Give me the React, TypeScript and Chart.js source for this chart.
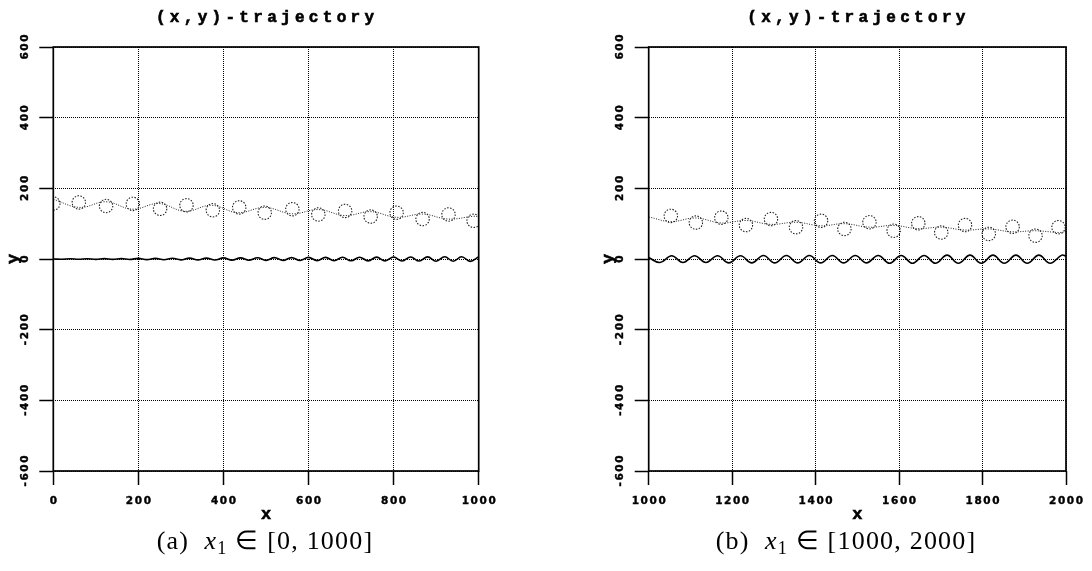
import React, { useEffect, useRef } from 'react';
import { Chart, registerables } from 'chart.js';

Chart.register(...registerables);

// ---------- shared labels ----------
const titleText = '(x,y)-trajectory';
const xTitle = 'x';
const yTitle = 'y';
const yTicks = [-600, -400, -200, 0, 200, 400, 600];
const xTicksA = [0, 200, 400, 600, 800, 1000];
const xTicksB = [1000, 1200, 1400, 1600, 1800, 2000];

// ---------- panel (a) ----------
const waveAX = [0, 20, 40, 60, 80, 100, 120, 140, 160, 180, 200, 220, 240, 260, 280, 300, 320, 340, 360, 380, 400, 420, 440, 460, 480, 500, 520, 540, 560, 580, 600, 620, 640, 660, 680, 700, 720, 740, 760, 780, 800, 820, 840, 860, 880, 900, 920, 940, 960, 980, 1000];
const waveAY = [0, -0.5, 0.5, -0.5, 0.6, -1, 1, -1, 1.1, -1.2, 1.8, -1.8, 1.9, -2, 2, -2.5, 2.5, -2.6, 2.6, -2.8, 3.2, -3.2, 3.3, -3.4, 3.4, -3.8, 3.9, -4, 4, -4.2, 4.5, -4.6, 4.6, -4.8, 4.8, -5, 5.1, -5.2, 5.2, -5.4, 5.5, -5.6, 5.7, -5.8, 5.9, -6.2, 6.3, -6.4, 6.5, -6.6, 6.6];
const pathAX = [0, 62, 124, 186, 248, 310, 372, 434, 497, 562, 623, 686, 746, 807, 868, 929, 988, 1000];
const pathAY = [169, 146, 162, 141, 157, 135, 152, 131, 146, 128, 140, 123, 134, 118, 127, 113, 121, 120];
const circAX = [0, 60, 124, 187, 251, 313, 375, 437, 497, 562, 623, 686, 746, 807, 868, 929, 988];
const circAY = [157, 160, 150, 156, 142, 152, 138, 146, 131, 141, 126, 136, 120, 131, 113, 126, 108];

// ---------- panel (b) ----------
const waveBX = [1000, 1027, 1055, 1082, 1110, 1137, 1165, 1192, 1220, 1247, 1275, 1302, 1330, 1357, 1385, 1412, 1440, 1467, 1495, 1522, 1550, 1577, 1605, 1632, 1660, 1687, 1715, 1742, 1770, 1797, 1825, 1852, 1880, 1907, 1935, 1962, 1990, 2000];
const waveBY = [4, -10, 9, -10, 9, -10, 9, -11, 9, -11, 10, -11, 10, -11, 10, -11, 10, -11, 10, -11, 10, -12, 10, -12, 10, -12, 11, -12, 11, -12, 11, -12, 11, -12, 11, -12, 11, 8];
const pathBX = [1000, 1053, 1113, 1174, 1233, 1293, 1353, 1413, 1469, 1529, 1587, 1645, 1701, 1758, 1815, 1872, 1927, 1982, 2000];
const pathBY = [119, 106, 116, 102, 109, 98, 104, 94, 100, 90, 95, 86, 90, 82, 85, 77, 80, 75, 77];
const circBX = [1053, 1113, 1174, 1233, 1293, 1353, 1413, 1469, 1529, 1587, 1646, 1701, 1758, 1815, 1872, 1927, 1982];
const circBY = [122, 103, 117, 96, 113, 90, 108, 85, 104, 80, 101, 75, 96, 71, 91, 66, 90];

function drawSpaced(ctx: CanvasRenderingContext2D, text: string, cx: number, cy: number, sp: number, heavy: number) {
  const chars = Array.from(text);
  const ws = chars.map((c) => ctx.measureText(c).width);
  const total = ws.reduce((a, b) => a + b, 0) + sp * (chars.length - 1);
  let x = cx - total / 2;
  ctx.textAlign = 'left';
  ctx.textBaseline = 'middle';
  ctx.lineWidth = heavy;
  ctx.strokeStyle = '#000';
  chars.forEach((c, i) => {
    ctx.fillText(c, x, cy);
    if (heavy > 0) ctx.strokeText(c, x, cy);
    x += ws[i] + sp;
  });
}

const circleDash = {
  id: 'circleDash',
  beforeDatasetDraw(chart: any, args: any) {
    if (args.index === 1) chart.ctx.setLineDash([1.5, 1.5]);
  },
  afterDatasetDraw(chart: any, args: any) {
    if (args.index === 1) chart.ctx.setLineDash([]);
  },
};

function makeTextPlugin(xTicks: number[]) {
  return {
    id: 'texts',
    afterDraw(chart: any) {
      const ctx: CanvasRenderingContext2D = chart.ctx;
      const { left, right, top, bottom } = chart.chartArea;
      const xs = chart.scales.x;
      const ys = chart.scales.y;
      ctx.save();
      // frame
      ctx.strokeStyle = '#000';
      ctx.lineWidth = 1.7;
      ctx.setLineDash([]);
      ctx.strokeRect(left, top, right - left, bottom - top);
      ctx.fillStyle = '#000';
      // x tick labels
      ctx.font = 'bold 10.5px "DejaVu Sans"';
      xTicks.forEach((v) => drawSpaced(ctx, String(v), xs.getPixelForValue(v), bottom + 30, 1.6, 0.4));
      // y tick labels (rotated)
      yTicks.forEach((v) => {
        ctx.save();
        ctx.translate(left - 28, ys.getPixelForValue(v));
        ctx.rotate(-Math.PI / 2);
        drawSpaced(ctx, String(v), 0, 0, 1.6, 0.4);
        ctx.restore();
      });
      // axis titles
      ctx.font = 'bold 17px "Liberation Mono"';
      drawSpaced(ctx, xTitle, (left + right) / 2, bottom + 44, 0, 0.6);
      ctx.save();
      ctx.translate(left - 40, (top + bottom) / 2);
      ctx.rotate(-Math.PI / 2);
      drawSpaced(ctx, yTitle, 0, 0, 0, 0.6);
      ctx.restore();
      // title
      ctx.font = 'bold 16px "Liberation Mono"';
      drawSpaced(ctx, titleText, (left + right) / 2 - 1, top - 29, 4.3, 0.6);
      ctx.restore();
    },
  };
}

type PanelProps = {
  canvasLeft: number;
  yAxisWidth: number;
  padRight: number;
  xMin: number;
  xMax: number;
  xTicks: number[];
  waveX: number[];
  waveY: number[];
  pathX: number[];
  pathY: number[];
  circX: number[];
  circY: number[];
};

function Panel(p: PanelProps) {
  const ref = useRef<HTMLCanvasElement | null>(null);
  useEffect(() => {
    if (!ref.current) return;
    const toPts = (xs: number[], ys: number[]) => xs.map((x, i) => ({ x, y: ys[i] }));
    const chart = new Chart(ref.current, {
      type: 'line',
      data: {
        datasets: [
          {
            label: 'path',
            data: toPts(p.pathX, p.pathY),
            borderColor: '#202020',
            borderWidth: 1,
            borderDash: [1, 1.5],
            pointRadius: 0,
            tension: 0.4,
            fill: false,
          },
          {
            label: 'circles',
            data: toPts(p.circX, p.circY),
            showLine: false,
            pointRadius: 6.7,
            pointBorderColor: '#202020',
            pointBackgroundColor: 'rgba(0,0,0,0)',
            pointBorderWidth: 1.1,
            pointStyle: 'circle',
          },
          {
            label: 'wave',
            data: toPts(p.waveX, p.waveY),
            borderColor: '#000',
            borderWidth: 1.6,
            pointRadius: 0,
            tension: 0.4,
            fill: false,
          },
        ],
      } as any,
      options: {
        responsive: false,
        animation: false,
        events: [],
        layout: { padding: { left: 0, top: 47, right: p.padRight, bottom: 0 } },
        plugins: {
          legend: { display: false },
          tooltip: { enabled: false },
          title: { display: false },
        },
        scales: {
          x: {
            type: 'linear',
            min: p.xMin,
            max: p.xMax,
            ticks: { stepSize: 200, display: false },
            grid: {
              color: '#000',
              lineWidth: 1,
              drawTicks: true,
              tickLength: 14,
              tickColor: '#000',
              tickWidth: 1.5,
            },
            border: { display: false, dash: [1, 1] },
            afterFit: (s: any) => {
              s.height = 100;
            },
          },
          y: {
            type: 'linear',
            min: -600,
            max: 600,
            ticks: { stepSize: 200, display: false },
            grid: {
              color: '#000',
              lineWidth: 1,
              drawTicks: true,
              tickLength: 14,
              tickColor: '#000',
              tickWidth: 1.5,
            },
            border: { display: false, dash: [1, 1] },
            afterFit: (s: any) => {
              s.width = p.yAxisWidth;
            },
          },
        },
      } as any,
      plugins: [circleDash, makeTextPlugin(p.xTicks)],
    });
    return () => chart.destroy();
  }, []);
  return (
    <canvas
      ref={ref}
      width={546}
      height={571}
      style={{ position: 'absolute', left: p.canvasLeft, top: 0, width: 546, height: 571, display: 'block' }}
    />
  );
}

const capStyle: React.CSSProperties = {
  position: 'absolute',
  top: 541,
  transform: 'translate(-50%, -50%)',
  whiteSpace: 'nowrap',
  fontFamily: '"Liberation Serif", serif',
  fontSize: 26,
  letterSpacing: '1.2px',
  lineHeight: 1,
  color: '#000',
};
const subStyle: React.CSSProperties = { fontSize: '0.7em', verticalAlign: '-0.25em', lineHeight: 0 };

export default function App() {
  return (
    <div style={{ position: 'absolute', left: 0, top: 0, width: 1092, height: 571, background: '#fff', overflow: 'hidden' }}>
      <Panel
        canvasLeft={0}
        yAxisWidth={53.3}
        padRight={67.3}
        xMin={0}
        xMax={1000}
        xTicks={xTicksA}
        waveX={waveAX}
        waveY={waveAY}
        pathX={pathAX}
        pathY={pathAY}
        circX={circAX}
        circY={circAY}
      />
      <Panel
        canvasLeft={546}
        yAxisWidth={102.7}
        padRight={26}
        xMin={1000}
        xMax={2000}
        xTicks={xTicksB}
        waveX={waveBX}
        waveY={waveBY}
        pathX={pathBX}
        pathY={pathBY}
        circX={circBX}
        circY={circBY}
      />
      <div style={{ ...capStyle, left: 265 }}>
        (a)&nbsp; <i>x</i>
        <span style={subStyle}>1</span>&nbsp;∈&nbsp;[0,&nbsp;1000]
      </div>
      <div style={{ ...capStyle, left: 846 }}>
        (b)&nbsp; <i>x</i>
        <span style={subStyle}>1</span>&nbsp;∈&nbsp;[1000,&nbsp;2000]
      </div>
    </div>
  );
}
